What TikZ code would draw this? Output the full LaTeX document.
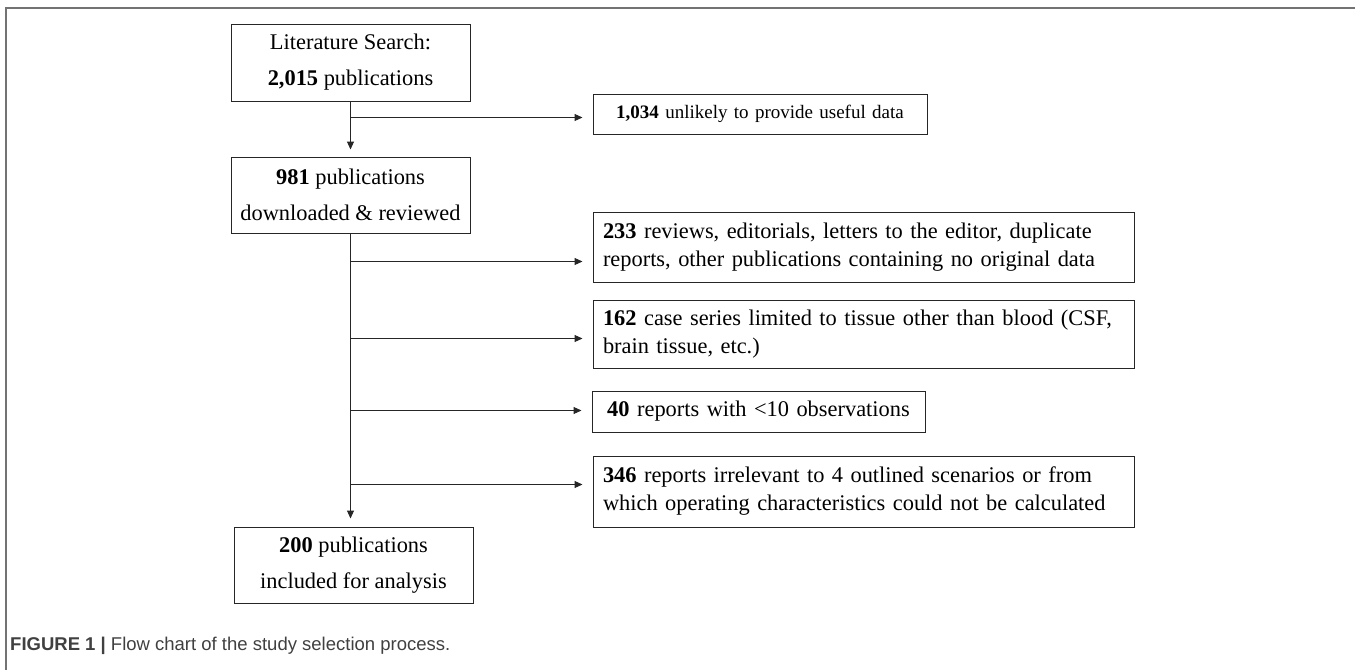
\documentclass[tikz,border=0pt]{standalone}
\usepackage{fontspec}
\setmainfont{Liberation Serif}
\newfontfamily\capfont{Liberation Sans}
\usetikzlibrary{positioning,calc,arrows.meta}

\tikzset{
  frame/.style={draw=black!55, line width=1.5pt},
  leftbox/.style={draw=black!85, line width=1pt, minimum width=239pt, minimum height=77pt,
    align=center, inner sep=0pt, font=\fontsize{22.4}{36}\selectfont},
  rightbox/.style={draw=black!85, line width=1pt, align=left, text width=521pt,
    inner xsep=10pt, inner ysep=0pt, font=\fontsize{22.4}{28}\selectfont},
  arr/.style={-{Triangle[length=8pt,width=7pt]}, draw=black!85, line width=1pt, shorten >=7pt},
}

\begin{document}
\begin{tikzpicture}[x=1pt,y=-1pt]
    \useasboundingbox (0,0) rectangle (1355,670);
    \draw[frame] (1355,8) -- (6,8) -- (6,670);

    % main column
    \node[leftbox] (search) at (350.5,62.5) {Literature Search:\\\textbf{2,015} publications};
    \node[leftbox, minimum height=76pt] (reviewed) at (350.5,195) {\textbf{981} publications\\downloaded \& reviewed};
    \node[leftbox, minimum height=76pt] (included) at (353.5,565) {\textbf{200} publications\\included for analysis};

    % excluded records
    \node[rightbox, text width=314pt, align=center, minimum height=40pt, font=\fontsize{19}{23}\selectfont] (unlikely) at (760,114) {\textbf{1,034} unlikely to provide useful data};
    \node[rightbox, minimum height=70pt] (noorig) at (863.5,247) {\textbf{233} reviews, editorials, letters to the editor, duplicate\\reports, other publications containing no original data};
    \node[rightbox, minimum height=68pt] (tissue) at (863.5,334) {\textbf{162} case series limited to tissue other than blood (CSF,\\brain tissue, etc.)};
    \node[rightbox, text width=313pt, align=center, minimum height=41pt] (fewobs) at (758.5,411.5) {\textbf{40} reports with <10 observations};
    \node[rightbox, minimum height=71pt] (irrelevant) at (863.5,491.5) {\textbf{346} reports irrelevant to 4 outlined scenarios or from\\which operating characteristics could not be calculated};

    \coordinate (b1) at ($(search.south)+(0,16)$);
    \coordinate (b2) at ($(reviewed.south)+(0,28)$);
    \coordinate (b3) at ($(reviewed.south)+(0,105)$);
    \coordinate (b4) at ($(reviewed.south)+(0,177)$);
    \coordinate (b5) at ($(reviewed.south)+(0,251)$);

    \draw[arr] (search) -- (reviewed);
    \draw[arr, shorten >=10pt] (b1) -- (b1 -| unlikely.west);
    \draw[arr, shorten >=8pt] (reviewed.south) -- (reviewed.south |- included.north);
    \draw[arr, shorten >=10pt] (b2) -- (b2 -| noorig.west);
    \draw[arr, shorten >=10pt] (b3) -- (b3 -| tissue.west);
    \draw[arr, shorten >=10pt] (b4) -- (b4 -| fewobs.west);
    \draw[arr, shorten >=10pt] (b5) -- (b5 -| irrelevant.west);

    \node[anchor=base west, inner sep=0pt, text=black!75, font=\capfont\fontsize{18.5}{22}\selectfont] (caption) at (10,650)
      {\textbf{FIGURE 1 |} Flow chart of the study selection process.};
\end{tikzpicture}
\end{document}
